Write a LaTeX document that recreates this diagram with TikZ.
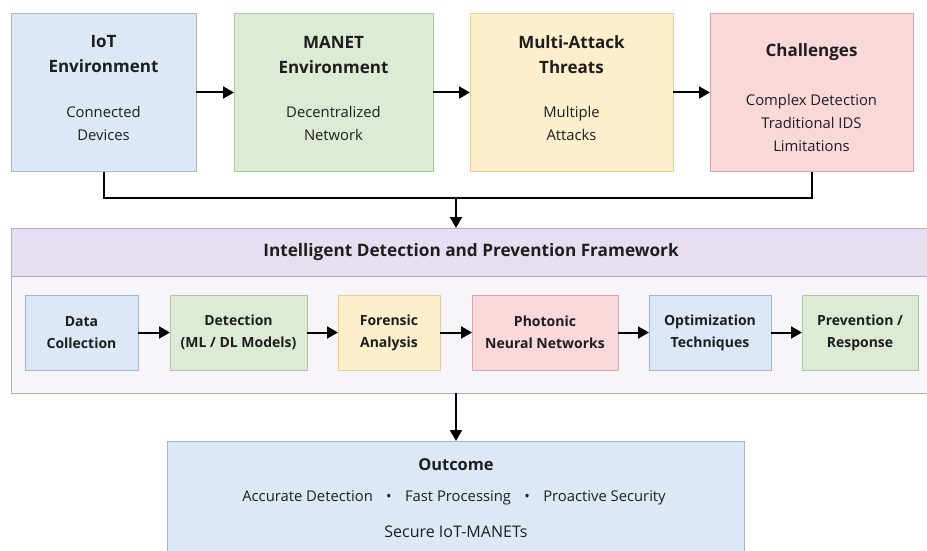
\documentclass[tikz,border=0pt]{standalone}
\usepackage{fontspec}
\setmainfont{Open Sans}
\usetikzlibrary{arrows.meta}
\definecolor{bfill}{HTML}{DCE8F6}\definecolor{bdraw}{HTML}{9DB8D9}
\definecolor{gfill}{HTML}{DDEBD4}\definecolor{gdraw}{HTML}{AACA9B}
\definecolor{yfill}{HTML}{FDEFCB}\definecolor{ydraw}{HTML}{E6CE8C}
\definecolor{pfill}{HTML}{F9D8DC}\definecolor{pdraw}{HTML}{E2A2A9}
\definecolor{lfill}{HTML}{E7DEF1}\definecolor{ldraw}{HTML}{B8A7D0}
\definecolor{bodyfill}{HTML}{F7F5FA}
\definecolor{txt}{HTML}{1E1E1E}
\tikzset{
  box/.style={draw, line width=0.9pt, inner sep=0pt, outer sep=0pt},
  bluebox/.style={box, fill=bfill, draw=bdraw},
  greenbox/.style={box, fill=gfill, draw=gdraw},
  yellowbox/.style={box, fill=yfill, draw=ydraw},
  pinkbox/.style={box, fill=pfill, draw=pdraw},
  ttl/.style={text=txt, align=center, font=\fontsize{17}{25}\selectfont\bfseries},
  sub/.style={text=txt, align=center, font=\fontsize{14.8}{23}\selectfont},
  inner/.style={text=txt, align=center, font=\fontsize{14}{22}\selectfont\bfseries},
  arr/.style={line width=2pt, -{Triangle[length=11pt,width=12pt]}},
  ln/.style={line width=2pt}
}
\begin{document}
\begin{tikzpicture}[x=1pt,y=-1pt]
\useasboundingbox (0,0) rectangle (927,551);
\clip (0,0) rectangle (927,551);
% top row
\node[bluebox, minimum width=185pt, minimum height=158pt] (iot) at (103.5,92.5) {};
\node[greenbox, minimum width=199pt, minimum height=158pt] (manet) at (333.5,92.5) {};
\node[yellowbox, minimum width=203pt, minimum height=158pt] (multi) at (571.5,92.5) {};
\node[pinkbox, minimum width=203pt, minimum height=158pt] (chal) at (811.5,92.5) {};
\node[ttl] (iotT) at (103.5,54.5) {IoT\\Environment};
\node[sub] (iotS) at (103.5,123.5) {Connected\\Devices};
\node[ttl] (manetT) at (333.5,54.5) {MANET\\Environment};
\node[sub] (manetS) at (333.5,123.5) {Decentralized\\Network};
\node[ttl] (multiT) at (571.5,54.5) {Multi-Attack\\Threats};
\node[sub] (multiS) at (571.5,123.5) {Multiple\\Attacks};
\node[ttl] (chalT) at (811.5,52) {Challenges};
\node[sub] (chalS) at (811.5,123) {Complex Detection\\Traditional IDS\\Limitations};
\draw[arr] (iot) -- (manet);
\draw[arr] (manet) -- (multi);
\draw[arr] (multi) -- (chal);
% merge
\coordinate (mL) at (103.5,198);
\coordinate (mR) at (812,198);
\coordinate (mC) at (456,198);
\draw[ln] (iot.south -| mL) -- (mL) -- (mR) -- (chal.south -| mR);
% framework
\node[box, draw=ldraw, fill=bodyfill, minimum width=930pt, minimum height=165pt, anchor=north west] (frame) at (11,228) {};
\node[box, draw=ldraw, fill=lfill, minimum width=930pt, minimum height=48pt, anchor=north west] (head) at (11,228) {};
\node[text=txt, font=\fontsize{17.2}{20}\selectfont\bfseries] (headT) at (471,252) {Intelligent Detection and Prevention Framework};
\draw[arr] (mC) -- (mC |- frame.north);
% inner boxes
\node[bluebox, minimum width=113pt, minimum height=75pt] (dc) at (81.5,332.5) {};
\node[inner] (dcT) at (dc) {Data\\Collection};
\node[greenbox, minimum width=137pt, minimum height=75pt] (det) at (238.5,332.5) {};
\node[inner] (detT) at (det) {Detection\\(ML / DL Models)};
\node[yellowbox, minimum width=102pt, minimum height=75pt] (for) at (389,332.5) {};
\node[inner] (forT) at (for) {Forensic\\Analysis};
\node[pinkbox, minimum width=146pt, minimum height=75pt] (pho) at (545,332.5) {};
\node[inner] (phoT) at (pho) {Photonic\\Neural Networks};
\node[bluebox, minimum width=122pt, minimum height=75pt] (opt) at (710,332.5) {};
\node[inner] (optT) at (opt) {Optimization\\Techniques};
\node[greenbox, minimum width=116pt, minimum height=75pt] (prev) at (860,332.5) {};
\node[inner] (prevT) at (prev) {Prevention /\\Response};
\draw[arr] (dc) -- (det);
\draw[arr] (det) -- (for);
\draw[arr] (for) -- (pho);
\draw[arr] (pho) -- (opt);
\draw[arr] (opt) -- (prev);
% outcome
\node[bluebox, minimum width=577pt, minimum height=130pt, anchor=north west] (out) at (167,441) {};
\coordinate (fB) at (456,393);
\draw[arr] (fB) -- (fB |- out.north);
\node[text=txt, font=\fontsize{16.4}{20}\selectfont\bfseries] (outT) at (456,465) {Outcome};
\node[text=txt, font=\fontsize{14.8}{18}\selectfont] (outS) at (454,498) {Accurate Detection\hspace{0.9em}\textbullet\hspace{0.9em}Fast Processing\hspace{0.9em}\textbullet\hspace{0.9em}Proactive Security};
\node[text=txt, font=\fontsize{16}{18}\selectfont] (outM) at (456,532) {Secure IoT-MANETs};
\end{tikzpicture}
\end{document}
